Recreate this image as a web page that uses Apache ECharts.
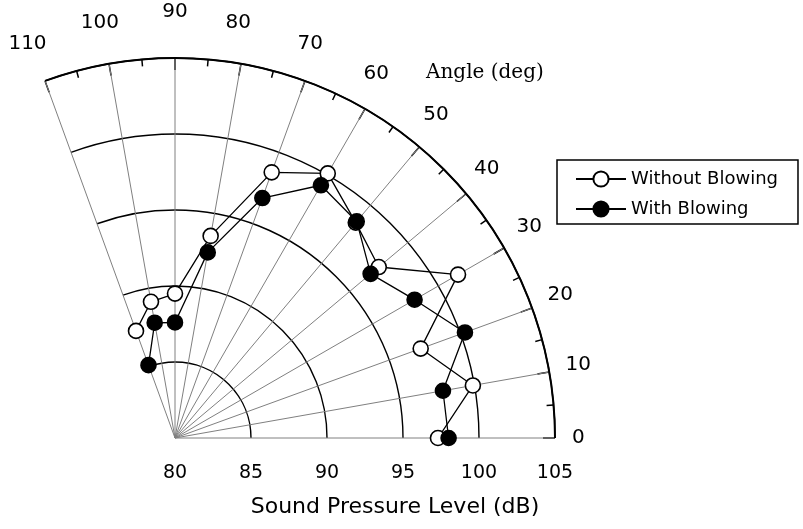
<!DOCTYPE html>
<html>
<head>
<meta charset="utf-8">
<script src="https://cdn.jsdelivr.net/npm/echarts@6/dist/echarts.min.js"></script>
<style>
  html, body { margin: 0; padding: 0; background: #fff; }
  #chart { width: 803px; height: 529px; }
</style>
</head>
<body>
<div id="chart"></div>
<script>
// Measurement angles (deg) and sound pressure levels (dB)
const angles = [0, 10, 20, 30, 40, 50, 60, 70, 80, 90, 100, 110];
const withoutBlowing = [97.3, 99.9, 97.2, 101.5, 97.5, 98.5, 100.1, 98.6, 93.5, 89.5, 89.1, 87.5];
const withBlowing    = [98.0, 97.9, 100.3, 98.2, 96.8, 98.6, 99.2, 96.8, 92.4, 87.6, 87.7, 85.1];

// Axis ranges
const angleRange = [0, 110];
const levelRange = [80, 105];
const levelStep = 5;
const angleStep = 10;

const seriesNames = ['Without Blowing', 'With Blowing'];
const axisTitles = { level: 'Sound Pressure Level (dB)', angle: 'Angle (deg)' };

const sans = '"DejaVu Sans", "Liberation Sans", Arial, sans-serif';
const serif = '"DejaVu Serif", "Liberation Serif", "Times New Roman", serif';

// Per-tick padding [top, right, bottom, left] that sets the angle labels
// on an even ring just outside the outer arc.
const angleLabelPadding = {
  0:   [0, 0, 0, 42],
  10:  [0, 0, 23, 41],
  20:  [0, 0, 12, 39],
  30:  [0, 0, 24, 34],
  40:  [0, 0, 31, 27],
  50:  [0, 0, 41, 20],
  60:  [0, 0, 47, 11],
  70:  [0, 0, 51, 1],
  80:  [0, 0, 56, 3],
  90:  [0, 0, 61, 0],
  100: [0, 27, 56, 0],
  110: [0, 7, 51, 0]
};
const angleRich = {};
Object.keys(angleLabelPadding).forEach((k) => {
  angleRich['a' + k] = {
    padding: angleLabelPadding[k],
    color: '#000',
    fontFamily: sans,
    fontSize: 20
  };
});

const toPolar = (levels) => levels.map((v, i) => [v, angles[i]]);

const chart = echarts.init(document.getElementById('chart'), null, { renderer: 'canvas' });

chart.setOption({
  backgroundColor: '#ffffff',
  animation: false,
  polar: {
    center: [175, 438],
    radius: 380
  },
  angleAxis: {
    type: 'value',
    min: angleRange[0],
    max: angleRange[1],
    interval: angleStep,
    startAngle: 0,
    endAngle: 110,
    clockwise: false,
    axisLine: { show: true, lineStyle: { color: '#000', width: 2 } },
    axisTick: { show: true, inside: true, length: 12, lineStyle: { color: '#000', width: 1.5 } },
    minorTick: { show: true, splitNumber: 2, length: 7, lineStyle: { color: '#000', width: 1.5 } },
    splitLine: { show: true, lineStyle: { color: '#808080', width: 1 } },
    axisLabel: {
      show: true,
      margin: -25,
      color: '#000',
      fontFamily: sans,
      fontSize: 20,
      formatter: (v) => '{a' + v + '|' + v + '}',
      rich: angleRich
    }
  },
  radiusAxis: {
    type: 'value',
    min: levelRange[0],
    max: levelRange[1],
    interval: levelStep,
    axisLine: { show: false },
    axisTick: { show: false },
    splitLine: { show: true, lineStyle: { color: '#000', width: 1.4 } },
    axisLabel: {
      show: true,
      margin: -45,
      color: '#000',
      fontFamily: sans,
      fontSize: 19
    },
    name: axisTitles.level,
    nameLocation: 'middle',
    nameGap: 58,
    nameTextStyle: {
      color: '#000',
      fontFamily: sans,
      fontSize: 22,
      padding: [0, 0, 0, 60]
    }
  },
  legend: {
    orient: 'vertical',
    left: 557,
    top: 160,
    data: seriesNames,
    itemWidth: 50,
    itemHeight: 19,
    itemGap: 12,
    padding: [10, 20, 6, 18],
    borderColor: '#000',
    borderWidth: 1.5,
    borderRadius: 0,
    backgroundColor: '#fff',
    textStyle: { color: '#000', fontFamily: sans, fontSize: 18 }
  },
  graphic: [{
    type: 'text',
    left: 426,
    top: 63,
    style: {
      text: axisTitles.angle,
      fill: '#000',
      font: '20px ' + serif
    }
  }],
  series: [
    {
      name: seriesNames[0],
      type: 'line',
      coordinateSystem: 'polar',
      data: toPolar(withoutBlowing),
      symbol: 'circle',
      symbolSize: 15,
      itemStyle: { color: '#fff', borderColor: '#000', borderWidth: 1.6 },
      lineStyle: { color: '#000', width: 1.3 },
      z: 3
    },
    {
      name: seriesNames[1],
      type: 'line',
      coordinateSystem: 'polar',
      data: toPolar(withBlowing),
      symbol: 'circle',
      symbolSize: 15,
      itemStyle: { color: '#000', borderColor: '#000', borderWidth: 1.6 },
      lineStyle: { color: '#000', width: 1.3 },
      z: 4
    }
  ]
});
</script>
</body>
</html>
